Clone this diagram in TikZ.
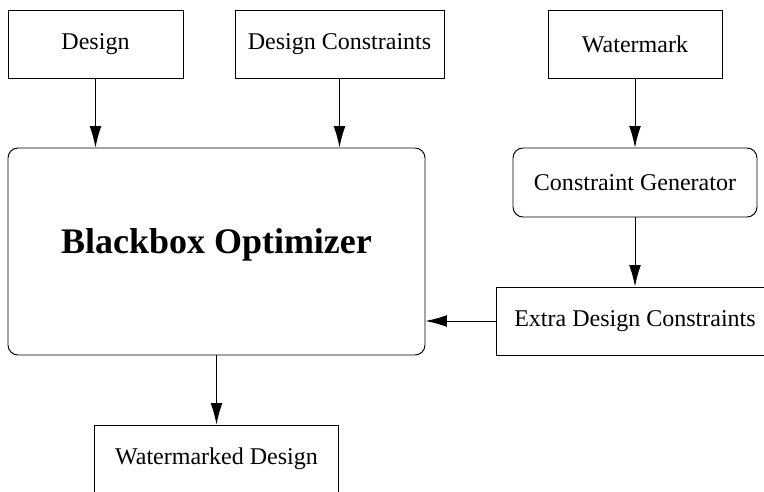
\documentclass[tikz,border=0pt]{standalone}
\usepackage{fontspec}
\setmainfont{Liberation Serif}
\usetikzlibrary{shapes,arrows.meta}
\tikzstyle{block} = [rectangle, draw, line width=0.8pt, text centered, minimum
    height=2.04cm, font=\fontsize{20.5}{24}\selectfont]
\tikzstyle{rblock} = [block, rounded corners=0.3cm]
\tikzstyle{line} = [draw, line width=0.8pt, -{Latex[length=6.4mm,width=3.5mm]}]

\begin{document}
\begin{tikzpicture}[node distance=4.155cm,auto]
      \useasboundingbox (0,0) rectangle (22.92,-14.76);
      \node [block, minimum width=5.25cm] (design) at (2.865,-1.32) {Design};
      \node [block, minimum width=6.27cm] (dcons) at (10.185,-1.32) {Design Constraints};
      \node [block, minimum width=5.22cm] (wmark) at (19.05,-1.32) {Watermark};

      \node [rblock, minimum width=12.51cm, minimum height=6.21cm, text depth=0.6cm,
        font=\fontsize{30.7}{36}\selectfont\bfseries] (optim) at (6.495,-7.545) {Blackbox Optimizer};
      \node [rblock, below of=wmark, minimum width=7.32cm, minimum height=2.07cm] (cgen) {Constraint Generator};
      \node [block, below of=cgen, minimum width=8.34cm] (extra) {Extra Design Constraints};

   \node [block, below of=optim, yshift=-2.07cm, minimum width=7.32cm] (result) {Watermarked Design};

      \path [line] (design) -- (design |- optim.north);
      \path [line] (dcons) -- (dcons |- optim.north);
      \path [line] (wmark) -- (cgen);
      \path [line] (cgen) -- (extra);
      \path [line] (extra) -- (extra -| optim.east);
      \path [line] (optim) -- (result);

    \end{tikzpicture}
\end{document}
